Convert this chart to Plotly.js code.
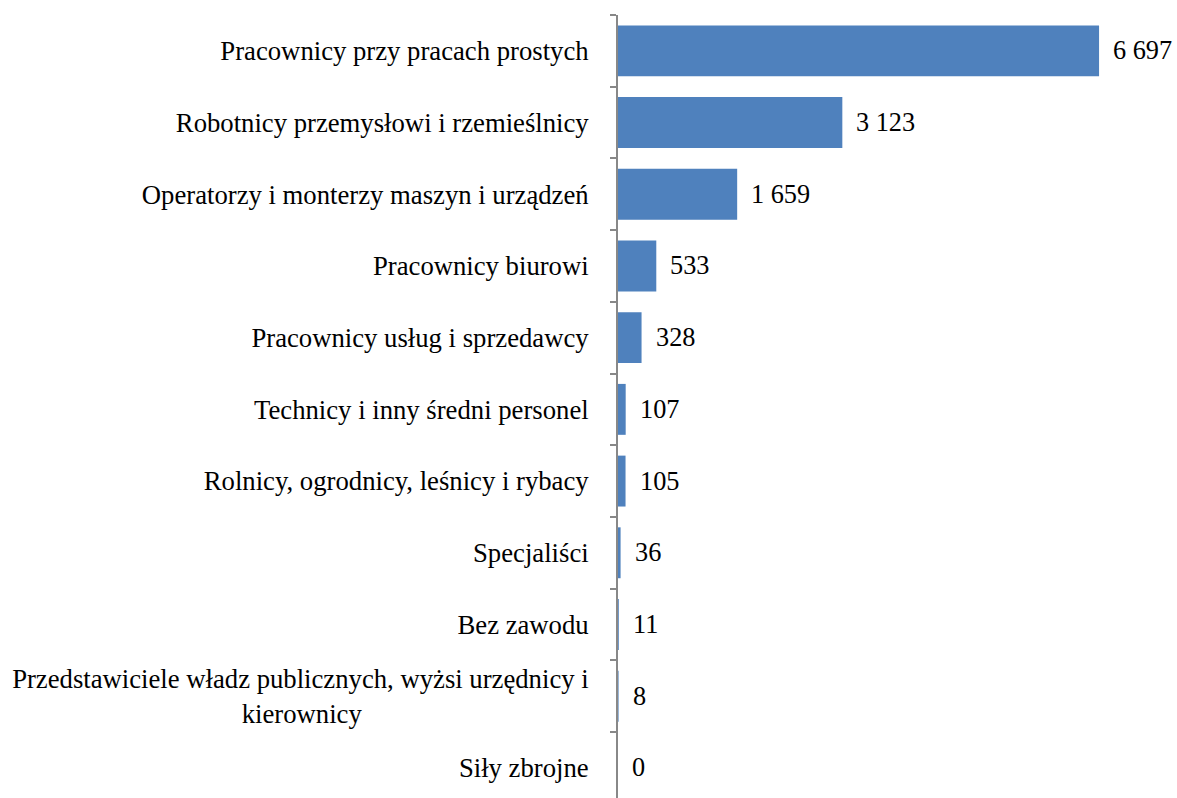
<!DOCTYPE html>
<html>
<head>
<meta charset="utf-8">
<script src="https://cdn.plot.ly/plotly-3.0.1.min.js"></script>
<style>html,body{margin:0;padding:0;background:#fff;}#chart{width:1177px;height:798px;}</style>
</head>
<body>
<div id="chart"></div>
<script>
const categories = [
  "Pracownicy przy pracach prostych",
  "Robotnicy przemysłowi i rzemieślnicy",
  "Operatorzy i monterzy maszyn i urządzeń",
  "Pracownicy biurowi",
  "Pracownicy usług i sprzedawcy",
  "Technicy i inny średni personel",
  "Rolnicy, ogrodnicy, leśnicy i rybacy",
  "Specjaliści",
  "Bez zawodu",
  "Przedstawiciele władz publicznych, wyżsi urzędnicy i<br>kierownicy" + "\u00a0".repeat(34),
  "Siły zbrojne"
];
const values = [6697, 3123, 1659, 533, 328, 107, 105, 36, 11, 8, 0];

const fmt = v => String(v).replace(/\B(?=(\d{3})+(?!\d))/g, " ");
const labelFont = {family: "Liberation Serif", size: 26.7, color: "#000"};
const valueFont = {family: "Liberation Serif", size: 26.3, color: "#000"};

const trace = {
  type: "bar",
  orientation: "h",
  x: values,
  y: categories,
  marker: {color: "#4F81BD"},
  width: 0.71,
  hoverinfo: "none"
};

const annotations = values.map((v, i) => ({
  x: v, y: categories[i], xref: "x", yref: "y",
  text: fmt(v), showarrow: false, xanchor: "left", yanchor: "middle",
  xshift: 12, font: valueFont
}));

const layout = {
  width: 1177, height: 798,
  margin: {l: 618, r: 0, t: 15, b: 0, pad: 0},
  paper_bgcolor: "#fff", plot_bgcolor: "#fff",
  showlegend: false,
  font: labelFont,
  xaxis: {visible: false, range: [0, 7782], fixedrange: true},
  yaxis: {
    type: "category",
    range: [10.42, -0.5],
    showline: true, linecolor: "#888", linewidth: 2,
    ticks: "outside", tickson: "boundaries", ticklen: 6, tickcolor: "#888", tickwidth: 2,
    showgrid: false, zeroline: false,
    ticklabelstandoff: 22,
    tickfont: labelFont,
    automargin: false
  },
  annotations: annotations
};

Plotly.newPlot("chart", [trace], layout, {displayModeBar: false, staticPlot: true});
</script>
</body>
</html>
